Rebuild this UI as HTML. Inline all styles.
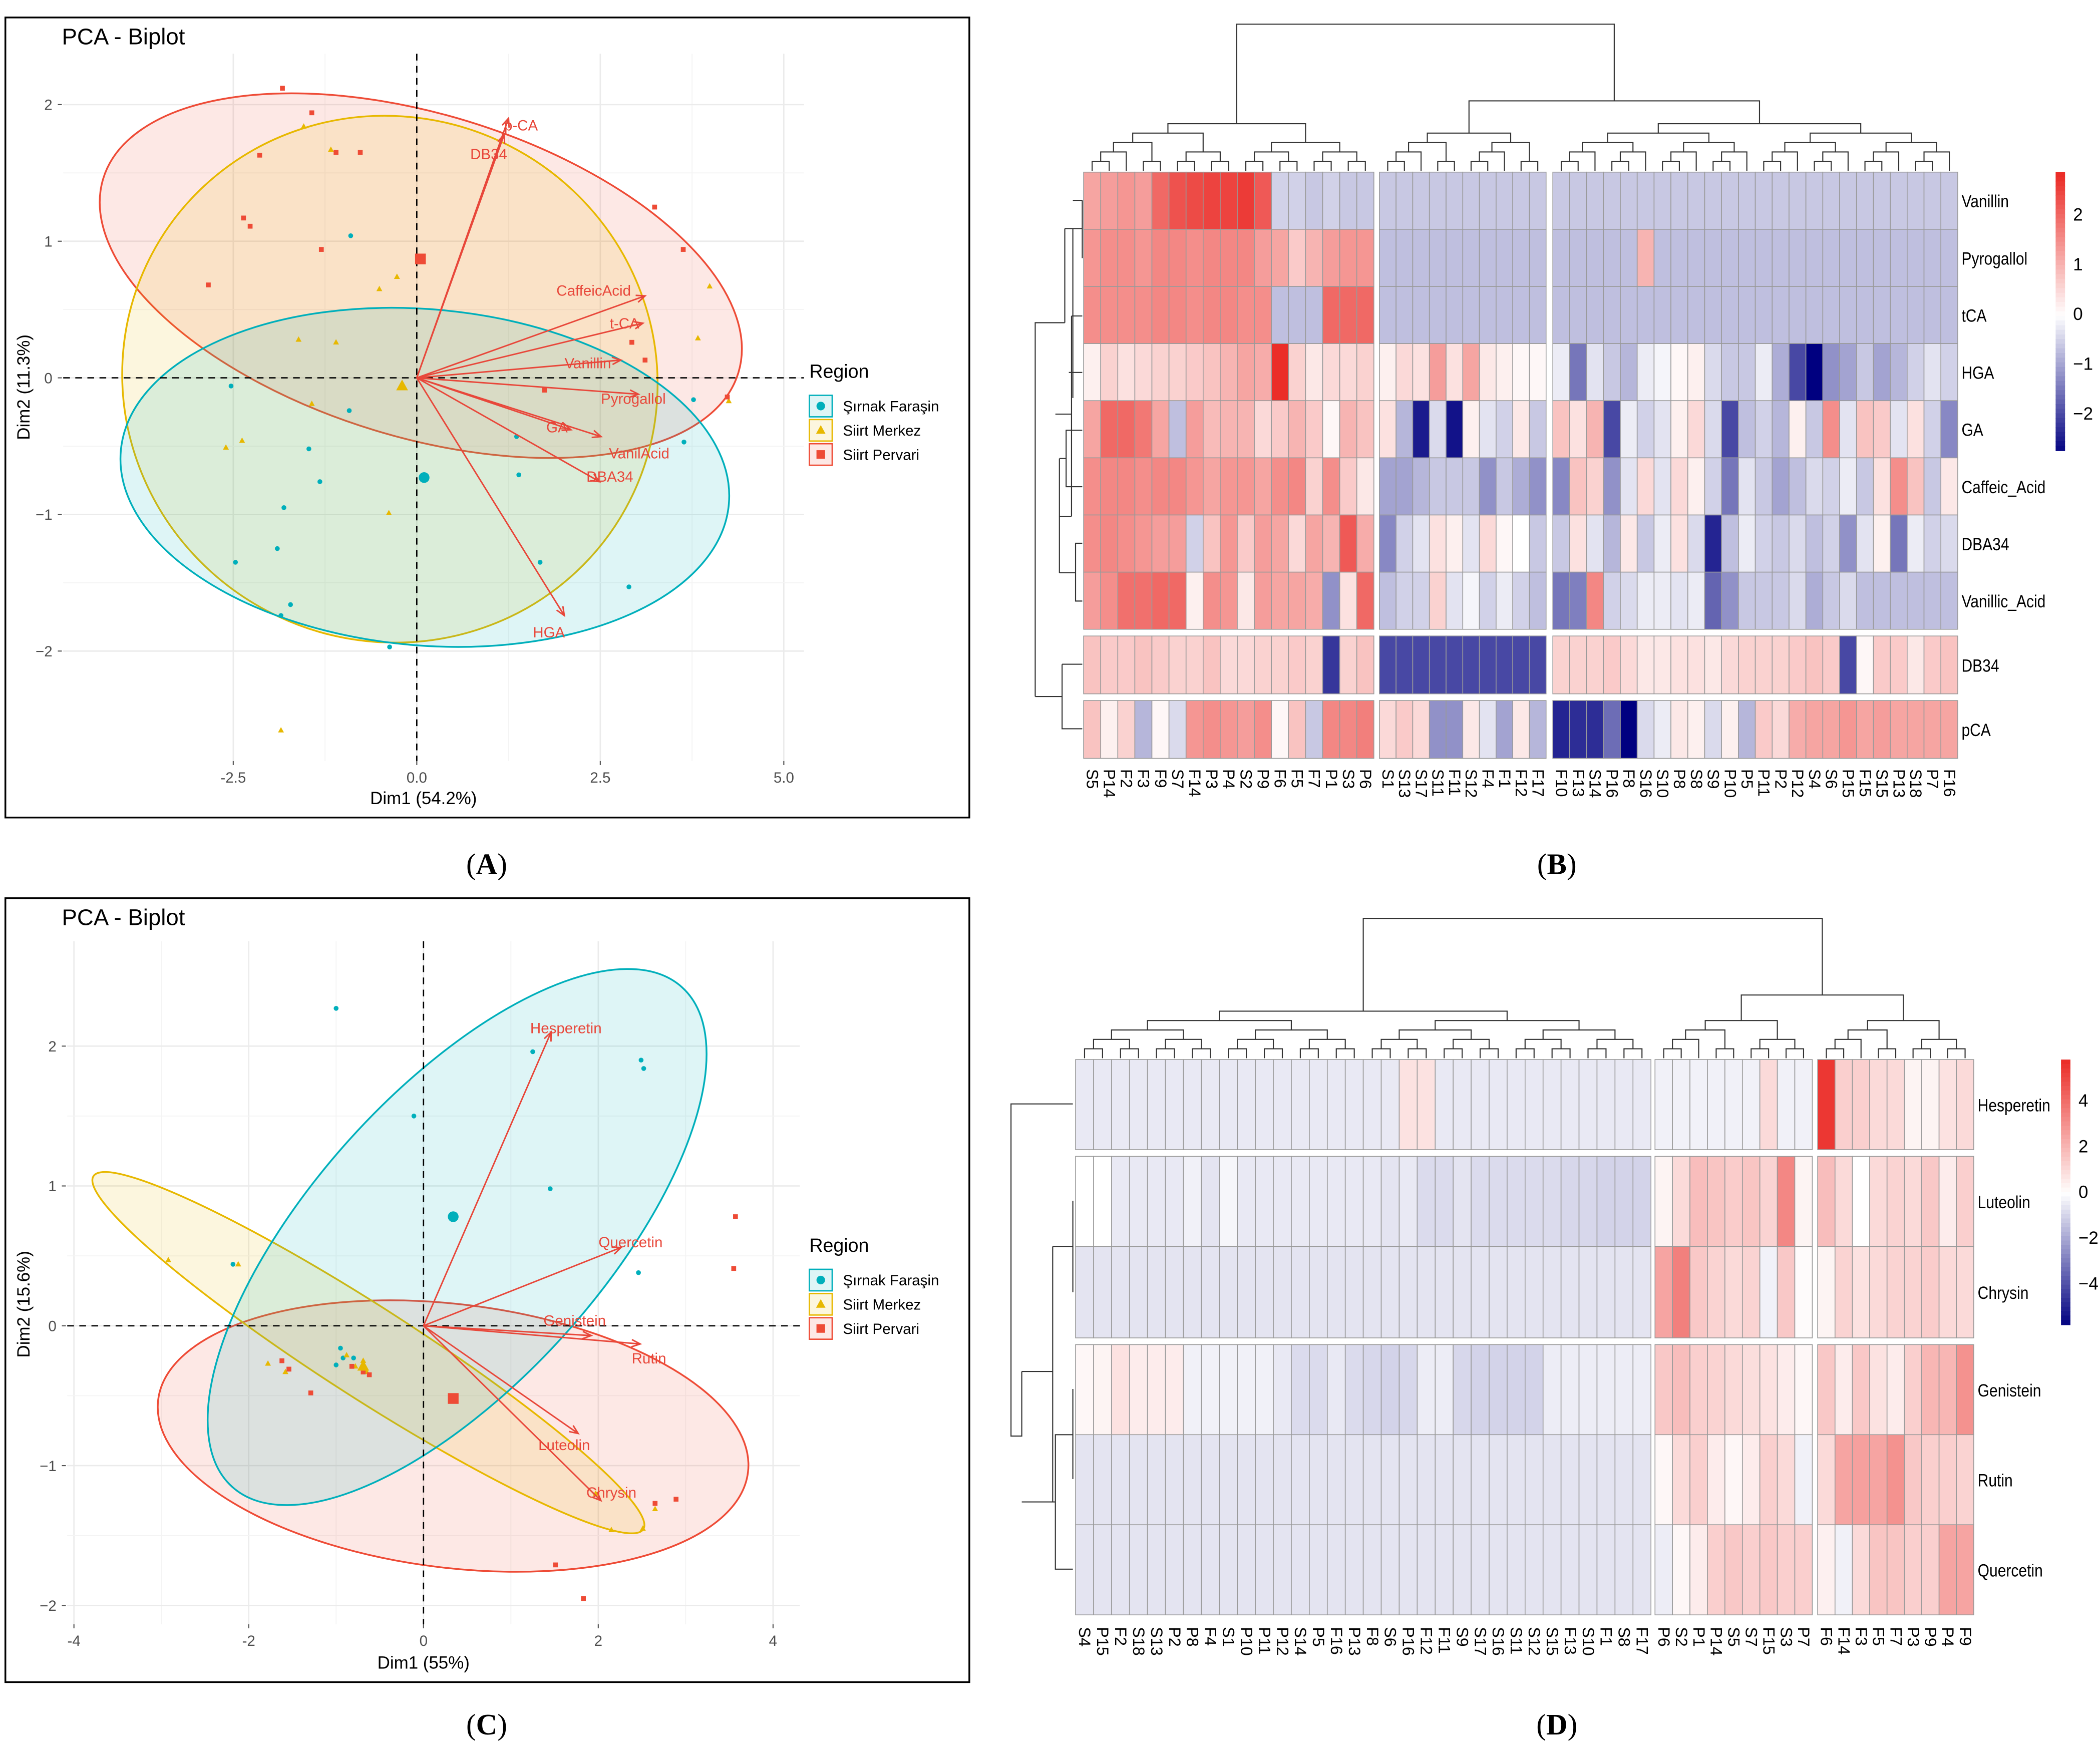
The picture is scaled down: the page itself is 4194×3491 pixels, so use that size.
<!DOCTYPE html>
<html><head><meta charset="utf-8"><style>
html,body{margin:0;padding:0;background:#fff;}
svg{display:block;font-family:"Liberation Sans",sans-serif;}
</style></head><body>
<svg id="fig" xmlns="http://www.w3.org/2000/svg" width="4194" height="3491" viewBox="0 0 1562 1300" preserveAspectRatio="none">
<rect x="0" y="0" width="1562" height="1300" fill="#fff"/>
<rect x="4" y="13" width="717" height="595" fill="none" stroke="#000" stroke-width="1.3"/>
<rect x="4" y="668" width="717" height="583" fill="none" stroke="#000" stroke-width="1.3"/>
<text x="362" y="650" font-family="Liberation Serif,serif" font-size="22" text-anchor="middle">(<tspan font-weight="bold">A</tspan>)</text>
<text x="1158" y="650" font-family="Liberation Serif,serif" font-size="22" text-anchor="middle">(<tspan font-weight="bold">B</tspan>)</text>
<text x="362" y="1290" font-family="Liberation Serif,serif" font-size="22" text-anchor="middle">(<tspan font-weight="bold">C</tspan>)</text>
<text x="1158" y="1290" font-family="Liberation Serif,serif" font-size="22" text-anchor="middle">(<tspan font-weight="bold">D</tspan>)</text>
</svg>
<script>
// ===== Panel A data =====
const aRedX=[-1.83,-1.43,-2.14,-2.36,-2.27,-1.10,-0.77,-2.84,-1.30,3.24,3.63,4.23,2.93,3.11,1.74];
const aRedY=[2.12,1.94,1.63,1.17,1.11,1.65,1.65,0.68,0.94,1.25,0.94,-0.14,0.26,0.13,-0.09];
const aYelX=[-1.54,-1.17,-0.51,-0.27,-1.61,-1.10,-2.38,-2.60,-1.43,-0.38,-1.85,3.99,3.83,4.25];
const aYelY=[1.84,1.67,0.65,0.74,0.28,0.26,-0.46,-0.51,-0.19,-0.99,-2.58,0.67,0.29,-0.17];
const aCyaX=[-0.90,-2.53,-0.92,-1.47,-1.32,-1.81,-2.47,-1.90,-1.72,-1.85,-0.37,1.36,1.39,1.68,2.89,3.64,3.77];
const aCyaY=[1.04,-0.06,-0.24,-0.52,-0.76,-0.95,-1.35,-1.25,-1.66,-1.74,-1.97,-0.43,-0.71,-1.35,-1.53,-0.47,-0.16];
const aMeansX=[0.10,-0.20,0.05];
const aMeansY=[-0.73,-0.06,0.87];
const aVarNames=["p-CA","DB34","CaffeicAcid","t-CA","Vanillin","Pyrogallol","GA","VanilAcid","DBA34","HGA"];
const aVarX=[1.25,1.19,3.11,3.08,2.78,3.02,2.10,2.51,2.49,2.01];
const aVarY=[1.90,1.78,0.60,0.40,0.13,-0.12,-0.38,-0.43,-0.76,-1.74];
const aLabX=[1.42,0.98,2.41,2.83,2.33,2.95,1.91,3.03,2.63,1.8];
const aLabY=[1.85,1.64,0.64,0.40,0.11,-0.15,-0.36,-0.55,-0.72,-1.86];
const aXTicks=[-2.5,0,2.5,5.0];
const aXTickLabels=["-2.5","0.0","2.5","5.0"];
const aYTicks=[-2,-1,0,1,2];
// ===== Panel C data =====
const cRedX=[3.57,3.55,-1.62,-1.54,-1.29,-0.82,-0.69,-0.62,2.89,2.65,1.51,1.83];
const cRedY=[0.78,0.41,-0.25,-0.31,-0.48,-0.29,-0.33,-0.35,-1.24,-1.27,-1.71,-1.95];
const cYelX=[-2.92,-2.12,-1.78,-1.58,-0.88,-0.78,-0.69,-0.65,2.15,2.51,2.65,1.97];
const cYelY=[0.47,0.44,-0.27,-0.33,-0.21,-0.29,-0.25,-0.33,-1.46,-1.45,-1.31,-1.20];
const cCyaX=[-1.0,-0.11,1.25,2.49,2.52,1.45,2.46,-2.18,-0.95,-0.92,-0.80,-1.0];
const cCyaY=[2.27,1.5,1.96,1.9,1.84,0.98,0.38,0.44,-0.16,-0.23,-0.23,-0.28];
const cMeansX=[0.34,-0.69,0.34];
const cMeansY=[0.78,-0.29,-0.52];
const cVarNames=["Hesperetin","Quercetin","Genistein","Rutin","Luteolin","Chrysin"];
const cVarX=[1.46,2.26,1.92,2.48,1.77,2.03];
const cVarY=[2.10,0.56,-0.07,-0.13,-0.77,-1.25];
const cLabX=[1.63,2.37,1.73,2.58,1.61,2.15];
const cLabY=[2.13,0.60,0.04,-0.23,-0.85,-1.19];
const cXTicks=[-4,-2,0,2,4];
const cYTicks=[-2,-1,0,1,2];
// ===== Heatmap B data =====
const bCols1=["S5","P14","F2","F3","F9","S7","F14","P3","P4","S2","P9","F6","F5","F7","P1","S3","P6"];
const bCols2=["S1","S13","S17","S11","F11","S12","F4","F1","F12","F17"];
const bCols3=["F10","F13","S14","P16","F8","S16","S10","P8","S8","S9","P10","P5","P11","P2","P12","S4","S6","P15","F15","S15","P13","S18","P7","F16"];
const bRows=["Vanillin","Pyrogallol","tCA","HGA","GA","Caffeic_Acid","DBA34","Vanillic_Acid","DB34","pCA"];
const bVals=[
[1.2,1.3,1.4,1.3,2,2.3,2.4,2.5,2.5,2.6,2.2,-0.5,-0.5,-0.6,-0.5,-0.6,-0.6, -0.6,-0.6,-0.6,-0.6,-0.6,-0.6,-0.6,-0.6,-0.6,-0.6, -0.6,-0.6,-0.6,-0.6,-0.6,-0.6,-0.6,-0.6,-0.6,-0.6,-0.6,-0.6,-0.6,-0.6,-0.6,-0.6,-0.6,-0.6,-0.6,-0.6,-0.6,-0.6,-0.6,-0.6],
[1.4,1.5,1.5,1.4,1.6,1.6,1.5,1.6,1.6,1.6,1.3,1.2,0.7,1.0,1.3,1.4,1.4, -0.7,-0.7,-0.7,-0.7,-0.7,-0.7,-0.7,-0.7,-0.7,-0.7, -0.7,-0.7,-0.7,-0.7,-0.7,1.0,-0.7,-0.7,-0.7,-0.7,-0.7,-0.7,-0.7,-0.7,-0.7,-0.7,-0.7,-0.7,-0.7,-0.7,-0.7,-0.7,-0.7,-0.7],
[1.5,1.5,1.5,1.5,1.6,1.6,1.5,1.6,1.6,1.5,1.5,-0.7,-0.7,-0.7,2.0,2.0,2.0, -0.7,-0.7,-0.7,-0.7,-0.7,-0.7,-0.7,-0.7,-0.7,-0.7, -0.7,-0.7,-0.7,-0.7,-0.7,-0.7,-0.7,-0.7,-0.7,-0.7,-0.7,-0.7,-0.7,-0.7,-0.7,-0.7,-0.7,-0.7,-0.7,-0.7,-0.7,-0.7,-0.7,-0.7],
[0.2,0.6,0.4,0.5,0.6,0.6,0.7,0.8,1,1.2,1.1,2.8,0.6,0.3,0.5,0.5,0.6, 0.2,0.5,0.4,1.3,0.4,1.2,0.3,0.2,0.1,0.1, -0.2,-1.5,-0.3,-0.6,-0.8,-0.2,-0.1,0.1,0.2,-0.4,-0.6,-0.6,-0.2,-0.9,-2.0,-2.8,-1.2,-1.0,-0.6,-1.0,-0.8,-0.5,-0.3,-0.5],
[1.2,2,2,1.8,1.2,-0.7,1.3,0.9,1.0,1.0,0.5,0.7,1.0,0.7,0.1,1.0,0.8, 0.4,-0.8,-2.5,-0.4,-2.6,0.2,-0.3,-0.5,0.3,-0.6, 0.8,0.4,1.0,-2.0,-0.2,-0.5,-0.3,0.2,0.5,-0.4,-2.0,-0.7,-0.5,-0.8,0.2,-0.6,1.5,-0.3,0.8,0.7,-0.3,0.4,-0.5,-1.3],
[1.5,1.6,1.6,1.5,1.6,1.6,1.4,1.2,1.4,1.4,1.2,1.5,1.6,0.6,1.5,0.7,0.3, -1,-1,-0.8,-0.6,-0.6,-0.6,-1.2,-0.6,-0.9,-1.2, -1.3,0.8,0.6,-1.2,-0.3,0.5,-0.3,0.5,0.2,-0.5,-1.5,-0.3,-0.6,-1.0,-0.7,-0.4,-0.5,-0.2,-0.6,0.4,1.5,0.8,-0.6,0.3],
[1.5,1.6,1.5,1.4,1.3,1.3,-0.5,0.8,1.4,0.7,1.3,1.2,0.5,1.2,1.0,2.2,1.1, -1.3,-0.5,-0.3,0.4,0.2,-0.3,0.5,0.1,0,-0.6, -0.6,0.4,-0.3,-0.8,0.3,-0.6,-0.2,0.4,-0.4,-2.4,-0.7,-0.2,-0.5,-0.6,-0.4,-0.7,-0.5,-1.2,-0.3,0.2,-1.5,-0.2,-0.5,-0.4],
[1.3,1.5,1.9,1.9,2.0,2.0,0.2,1.5,1.4,0.3,1.3,1.2,1.2,1.1,-1.2,0.4,2.0, -0.7,-0.5,-0.5,0.6,-0.3,-0.1,-0.5,-0.2,-0.5,-0.7, -1.5,-1.4,1.6,-0.5,-0.4,-0.2,-0.2,-0.3,-0.2,-1.7,-1.2,-0.6,-0.6,-0.6,-0.4,-0.9,-0.6,-0.4,-0.7,-0.7,-0.7,-0.7,-0.7,-0.7],
[0.8,0.7,0.7,0.8,0.7,0.6,0.6,0.8,0.5,0.5,0.6,0.6,0.7,0.6,-2.2,0.6,0.8, -2,-2,-2,-2,-2,-2,-2,-2,-2,-2, 0.6,0.6,0.6,0.7,0.5,0.3,0.3,0.4,0.4,0.3,0.5,0.6,0.6,0.6,0.7,0.8,0.7,-2.0,0.1,0.7,0.7,0.3,0.7,0.8],
[0.8,0.2,0.6,-0.8,0.1,-0.4,1.4,1.5,1.4,1.3,1.5,0.1,0.8,-0.6,1.6,1.6,1.7, 0.5,0.7,0.5,-1.2,-1.2,0.3,-0.3,-1.0,0.3,-0.8, -2.4,-2.3,-2.3,-1.6,-2.8,-0.4,-0.2,0.3,0.2,-0.4,0.2,-0.8,0.7,0.5,1.1,1.2,1.2,1.4,1.2,1.3,1.2,1.2,1.2,1.2]
];
const bLegendTicks=[2,1,0,-1,-2];
// ===== Heatmap D data =====
const dCols1=["S4","P15","F2","S18","S13","P2","P8","F4","S1","P10","P11","P12","S14","P5","F16","P13","F8","S6","P16","F12","F11","S9","S17","S16","S11","S12","S15","F13","S10","F1","S8","F17"];
const dCols2=["P6","S2","P1","P14","S5","S7","F15","S3","P7"];
const dCols3=["F6","F14","F3","F5","F7","P3","P9","P4","F9"];
const dRows=["Hesperetin","Luteolin","Chrysin","Genistein","Rutin","Quercetin"];
const dVals=[
[-0.5,-0.5,-0.5,-0.5,-0.5,-0.5,-0.5,-0.5,-0.5,-0.5,-0.5,-0.5,-0.5,-0.5,-0.5,-0.5,-0.5,-0.5,0.8,0.8,-0.5,-0.5,-0.5,-0.5,-0.5,-0.5,-0.5,-0.5,-0.5,-0.5,-0.5,-0.5, -0.3,-0.3,-0.3,-0.3,-0.3,-0.3,1.0,-0.3,-0.3, 5.5,1.3,1.3,1.0,1.0,0.3,0.3,0.8,1.0],
[0,0,-0.5,-0.5,-0.5,-0.5,-0.3,-0.6,-0.2,-0.5,-0.5,-0.5,-0.5,-0.5,-0.5,-0.5,-0.5,-0.6,-0.5,-0.8,-0.8,-0.6,-0.8,-0.8,-0.8,-0.8,-0.8,-0.9,-0.9,-1.0,-1.0,-1.0, 0.3,1.0,1.8,1.6,1.4,1.6,1.2,3.3,0.3, 1.8,1.0,0.0,1.0,1.2,1.0,1.5,0.5,1.3],
[-0.6,-0.6,-0.6,-0.6,-0.6,-0.6,-0.6,-0.6,-0.6,-0.6,-0.6,-0.6,-0.6,-0.6,-0.6,-0.6,-0.6,-0.6,-0.6,-0.6,-0.6,-0.6,-0.6,-0.6,-0.6,-0.6,-0.6,-0.6,-0.6,-0.6,-0.6,-0.6, 2.5,3.5,1.5,1.2,1.0,1.2,-0.3,1.5,0.1, 0.3,1.2,0.8,1.0,1.2,1.2,1.4,1.0,1.0],
[0.2,0.3,0.8,0.5,0.5,0.5,-0.3,-0.3,-0.3,-0.3,-0.3,-0.5,-0.8,-0.8,-0.5,-0.8,-0.9,-1.0,-0.9,-0.4,-0.4,-0.9,-1.0,-1.0,-1.0,-1.0,-0.4,-0.4,-0.4,-0.4,-0.4,-0.4, 1.5,1.8,1.3,1.2,1.0,0.9,0.8,0.5,0.2, 1.5,0.5,1.5,0.8,0.5,1.3,2.0,2.0,3.0],
[-0.6,-0.6,-0.6,-0.6,-0.6,-0.6,-0.6,-0.6,-0.6,-0.6,-0.6,-0.6,-0.6,-0.6,-0.6,-0.6,-0.6,-0.6,-0.6,-0.6,-0.6,-0.6,-0.6,-0.6,-0.6,-0.6,-0.6,-0.6,-0.6,-0.6,-0.6,-0.6, 0.2,1.0,1.3,0.5,0.2,0.5,1.3,1.0,-0.3, 1.0,2.5,2.6,2.5,3.0,1.5,1.3,1.3,1.2],
[-0.6,-0.6,-0.6,-0.6,-0.6,-0.6,-0.6,-0.6,-0.6,-0.6,-0.6,-0.6,-0.6,-0.6,-0.6,-0.6,-0.6,-0.6,-0.6,-0.6,-0.6,-0.6,-0.6,-0.6,-0.6,-0.6,-0.6,-0.6,-0.6,-0.6,-0.6,-0.6, -0.4,0.2,0.5,1.3,1.5,1.3,1.5,1.3,1.3, 0.4,-0.3,1.0,1.6,1.6,1.3,1.3,2.5,2.5]
];
const dLegendTicks=[4,2,0,-2,-4];
const regionNames=["Şırnak Faraşin","Siirt Merkez","Siirt Pervari"];

const NS="http://www.w3.org/2000/svg";
const svg=document.getElementById('fig');
function mk(tag,attrs,parent){const e=document.createElementNS(NS,tag);for(const k in attrs)e.setAttribute(k,attrs[k]);(parent||svg).appendChild(e);return e;}
const CYAN="#00AFBB",YEL="#E7B800",RED="#EE4B36",ARROW="#E8473A";

function drawPCA(P){
  const g=mk('g',{});
  
  
  const sx=v=>P.x0+P.kx*v, sy=v=>P.y0-P.ky*v;
  P.xt.forEach((t,i)=>{
    const l=mk('line',{x1:sx(t),x2:sx(t),y1:P.top,y2:P.bot,stroke:'#ebebeb','stroke-width':1},g);
    
    
    if(i<P.xt.length-1){const m=(t+P.xt[i+1])/2;mk('line',{x1:sx(m),x2:sx(m),y1:P.top,y2:P.bot,stroke:'#f4f4f4','stroke-width':0.7},g);}
    const tx=mk('text',{x:sx(t),y:P.bot+16,'font-size':11,fill:'#4d4d4d','text-anchor':'middle'},g);
    
    
    tx.textContent=P.xl[i];
    mk('line',{x1:sx(t),x2:sx(t),y1:P.bot,y2:P.bot+3,stroke:'#555','stroke-width':0.8},g);
  });
  P.yt.forEach((t,i)=>{
    mk('line',{x1:P.left,x2:P.right,y1:sy(t),y2:sy(t),stroke:'#ebebeb','stroke-width':1},g);
    if(i<P.yt.length-1){const m=(t+P.yt[i+1])/2;mk('line',{x1:P.left,x2:P.right,y1:sy(m),y2:sy(m),stroke:'#f4f4f4','stroke-width':0.7},g);}
    const tx=mk('text',{x:P.left-8,y:sy(t)+4,'font-size':11,fill:'#4d4d4d','text-anchor':'end'},g);
    
    
    tx.textContent=String(t).replace('-','−');
    mk('line',{x1:P.left-4,x2:P.left-1,y1:sy(t),y2:sy(t),stroke:'#555','stroke-width':0.8},g);
  });
  P.ell.forEach(e=>{
    const el=mk('ellipse',{cx:e.cx,cy:e.cy,rx:e.rx,ry:e.ry,transform:`rotate(${e.r} ${e.cx} ${e.cy})`,fill:e.c,'fill-opacity':0.13,stroke:e.c,'stroke-width':1.3},g);
    
    
  });
  mk('line',{x1:sx(0),x2:sx(0),y1:P.top,y2:P.bot,stroke:'#000','stroke-dasharray':'5,4','stroke-width':1},g);
  mk('line',{x1:P.left,x2:P.right,y1:sy(0),y2:sy(0),stroke:'#000','stroke-dasharray':'5,4','stroke-width':1},g);
  const sym=(type,x,y,s,col,name)=>{
    let e;
    if(type===0)e=mk('circle',{cx:x,cy:y,r:s,fill:col},g);
    else if(type===1)e=mk('polygon',{points:`${x},${y-s*1.2} ${x-s*1.1},${y+s*0.8} ${x+s*1.1},${y+s*0.8}`,fill:col},g);
    else e=mk('rect',{x:x-s,y:y-s,width:2*s,height:2*s,fill:col},g);
    
    
  };
  P.cx.forEach((v,i)=>sym(0,sx(v),sy(P.cy[i]),1.8,CYAN,'point-sirnak'));
  P.yx.forEach((v,i)=>sym(1,sx(v),sy(P.yy[i]),2,YEL,'point-merkez'));
  P.rx.forEach((v,i)=>sym(2,sx(v),sy(P.ry[i]),1.8,RED,'point-pervari'));
  [CYAN,YEL,RED].forEach((c,i)=>sym(i,sx(P.mx[i]),sy(P.my[i]),4,c,'group-mean'));
  P.vn.forEach((n,i)=>{
    const x2=sx(P.vx[i]),y2=sy(P.vy[i]),x1=sx(0),y1=sy(0);
    const a=Math.atan2(y2-y1,x2-x1),h=7;
    const ar=mk('path',{d:`M${x1},${y1}L${x2},${y2}M${x2-h*Math.cos(a-0.4)},${y2-h*Math.sin(a-0.4)}L${x2},${y2}L${x2-h*Math.cos(a+0.4)},${y2-h*Math.sin(a+0.4)}`,stroke:ARROW,'stroke-width':1.1,fill:'none'},g);
    
    
    const t=mk('text',{x:sx(P.lx[i]),y:sy(P.ly[i])+4,'font-size':11,fill:ARROW,'text-anchor':'middle'},g);
    
    
    t.textContent=n;
  });
  let t=mk('text',{x:P.title[0],y:P.title[1],'font-size':17},g);
  
  
  t.textContent='PCA - Biplot';
  t=mk('text',{x:P.xtitle[0],y:P.xtitle[1],'font-size':13,'text-anchor':'middle'},g);
  
  
  t.textContent=P.xlab;
  t=mk('text',{x:P.ytitle[0],y:P.ytitle[1],'font-size':13,'text-anchor':'middle',transform:`rotate(-90 ${P.ytitle[0]} ${P.ytitle[1]})`},g);
  
  
  t.textContent=P.ylab;
  const L=P.leg;
  t=mk('text',{x:L[0],y:L[1],'font-size':14},g);
  
  
  t.textContent='Region';
  regionNames.forEach((n,i)=>{
    const y=L[1]+21+i*18;
    const k=mk('rect',{x:L[0],y:y-8,width:17,height:16,fill:[CYAN,YEL,RED][i],'fill-opacity':0.13,stroke:[CYAN,YEL,RED][i],'stroke-width':1},g);
    
    
    sym(i,L[0]+8.5,y,3.2,[CYAN,YEL,RED][i],'legend-symbol');
    const tx=mk('text',{x:L[0]+25,y:y+4,'font-size':11},g);
    
    
    tx.textContent=n;
  });
}

drawPCA({name:'pca-biplot-a',x0:310,kx:54.6,y0:281,ky:101.6,left:47,right:598,top:40,bot:566,
 xt:aXTicks,xl:aXTickLabels,yt:aYTicks,
 ell:[{cx:313,cy:205,rx:247,ry:120,r:17,c:RED,n:'ellipse-pervari'},{cx:290,cy:282,rx:200,ry:195,r:25,c:YEL,n:'ellipse-merkez'},{cx:316,cy:355,rx:227,ry:125,r:5,c:CYAN,n:'ellipse-sirnak'}],
 cx:aCyaX,cy:aCyaY,yx:aYelX,yy:aYelY,rx:aRedX,ry:aRedY,mx:aMeansX,my:aMeansY,
 vn:aVarNames,vx:aVarX,vy:aVarY,lx:aLabX,ly:aLabY,
 title:[46,33],xtitle:[315,598],xlab:'Dim1 (54.2%)',ytitle:[22,288],ylab:'Dim2 (11.3%)',leg:[602,281]});

drawPCA({name:'pca-biplot-c',x0:315,kx:65,y0:986,ky:104,left:50,right:595,top:700,bot:1208,
 xt:cXTicks,xl:cXTicks.map(String),yt:cYTicks,
 ell:[{cx:337,cy:1068,rx:221,ry:98,r:7,c:RED,n:'ellipse-pervari'},{cx:274,cy:1006,rx:243,ry:34,r:32.7,c:YEL,n:'ellipse-merkez'},{cx:340,cy:920,rx:250,ry:108,r:-48,c:CYAN,n:'ellipse-sirnak'}],
 cx:cCyaX,cy:cCyaY,yx:cYelX,yy:cYelY,rx:cRedX,ry:cRedY,mx:cMeansX,my:cMeansY,
 vn:cVarNames,vx:cVarX,vy:cVarY,lx:cLabX,ly:cLabY,
 title:[46,688],xtitle:[315,1241],xlab:'Dim1 (55%)',ytitle:[22,970],ylab:'Dim2 (15.6%)',leg:[602,931]});

function colorFor(v,m){
  const t=Math.max(-1,Math.min(1,v/m));
  let r,g,b;
  if(t<0){const s=-t;r=255+(0-255)*s;g=255+(0-255)*s;b=255+(128-255)*s;}
  else{const s=t;r=255+(235-255)*s;g=255+(45-255)*s;b=255+(40-255)*s;}
  return `rgb(${r|0},${g|0},${b|0})`;
}
function buildTree(pos){
  if(pos.length===1)return {p:pos[0],h:0,segs:[]};
  const m=Math.ceil(pos.length/2);
  const l=buildTree(pos.slice(0,m)),r=buildTree(pos.slice(m));
  const h=Math.max(l.h,r.h)+1;
  return {p:(l.p+r.p)/2,h:h,segs:[...l.segs,...r.segs,[l.p,l.h,r.p,r.h,h]]};
}
function drawTree(g,pos,base,step,vertical,name){
  const T=buildTree(pos);
  let d='';
  T.segs.forEach(([a,ha,b,hb,h])=>{
    if(vertical){d+=`M${a},${base-ha*step}V${base-h*step}H${b}V${base-hb*step}`;}
    else{d+=`M${base-ha*step},${a}H${base-h*step}V${b}H${base-hb*step}`;}
  });
  const p=mk('path',{d:d,fill:'none',stroke:'#333','stroke-width':0.8},g);
  
  
  return {p:T.p,top:base-T.h*step};
}
function drawHeat(H){
  const g=mk('g',{});
  
  
  let ci=0;const groupCenters=[];
  H.groups.forEach((gr,gi)=>{
    const cs=[];
    gr.cols.forEach((c,j)=>{
      const x=gr.x+j*gr.w;cs.push(x+gr.w/2);
      H.rows.forEach((r,ri)=>{
        const ry=H.rowY[ri];
        const cell=mk('rect',{x:x,y:ry,width:gr.w,height:H.rowH[ri],fill:colorFor(H.vals[ri][ci],H.max),stroke:'#9a9a9a','stroke-width':0.6},g);
        
        
      });
      const t=mk('text',{x:x+gr.w/2-4,y:H.labY,'font-size':12,transform:`rotate(90 ${x+gr.w/2-4} ${H.labY})`},g);
      
      
      t.textContent=c;
      ci++;
    });
    const tr=drawTree(g,cs,H.rowY[0]-1,H.tstep,true,'column-dendrogram');
    groupCenters.push(tr);
  });
  H.rows.forEach((r,ri)=>{
    const t=mk('text',{x:0,y:0,'font-size':13,transform:`translate(${H.rowLabX} ${H.rowY[ri]+H.rowH[ri]/2+5}) scale(0.86 1)`},g);
    
    
    t.textContent=r;
  });
  const [a,b,c]=groupCenters;
  const bcY=H.midY, bc=(b.p+c.p)/2;
  const d=`M${b.p},${b.top}V${bcY}H${c.p}V${c.top}M${a.p},${a.top}V${H.rootY}H${bc}V${bcY}`;
  const p=mk('path',{d:d,fill:'none',stroke:'#333','stroke-width':0.8},g);
  
  
  const rd=mk('path',{d:H.rowTree,fill:'none',stroke:'#333','stroke-width':0.8},g);
  
  
  const lg=mk('g',{},g);
  
  
  const [lx,ly0,ly1,lw]=H.leg;
  const n=60;
  for(let i=0;i<n;i++){
    const y=ly0+(ly1-ly0)*i/n;
    const v=H.legZeroV(y);
    mk('rect',{x:lx,y:y,width:lw,height:(ly1-ly0)/n+0.5,fill:colorFor(v,H.max)},lg);
  }
  H.legTicks.forEach(t=>{
    const y=H.legY(t);
    const tx=mk('text',{x:lx+lw+6,y:y+5,'font-size':13},lg);
    
    
    tx.textContent=String(t).replace('-','−');
  });
}
const rowHB=[128,170.5,213,255.5,298,340.5,383,425.5,473,521];
drawHeat({name:'heatmap-b',max:2.8,
 groups:[{cols:bCols1,x:806,w:12.7},{cols:bCols2,x:1026,w:12.4},{cols:bCols3,x:1155,w:12.55}],
 rows:bRows,vals:bVals,rowY:rowHB,rowH:[42.5,42.5,42.5,42.5,42.5,42.5,42.5,42.5,43,43],
 labY:572,rowLabX:1459,tstep:7,midY:75,rootY:18,
 rowTree:'M805,149V192M805,170H798M805,235H797M805,277H795M805,320H793V362H805M793,341H788M805,404H800V447H805M800,426H788M788,341V426M797,235V384M795,277H797M797,308H785M798,170V296M798,170H792M785,308H792M792,170V240M788,384H797M792,240H780M805,494H790M805,542H790V494M790,518H770M780,240H770V518M805,149H798',
 leg:[1529,128,335,7],legTicks:bLegendTicks,legY:t=>233-37*t,legZeroV:y=>(233-y)/37});
const rowHD=[788,860,927,1000,1067,1134];
drawHeat({name:'heatmap-d',max:5.8,
 groups:[{cols:dCols1,x:800,w:13.375},{cols:dCols2,x:1231,w:13},{cols:dCols3,x:1352,w:12.9}],
 rows:dRows,vals:dVals,rowY:rowHD,rowH:[67,67,68,67,67,67],
 labY:1210,rowLabX:1471,tstep:7,midY:740,rootY:683,
 rowTree:'M798,893V961M798,927H783M798,1033V1100M798,1067H785V1167H798M785,1117H760M783,927V1117M783,1020H760M798,821H752V1068H760V1020',
 leg:[1533,788,985,7],legTicks:dLegendTicks,legY:t=>886-17*t,legZeroV:y=>(886-y)/17});
</script>
</body></html>
